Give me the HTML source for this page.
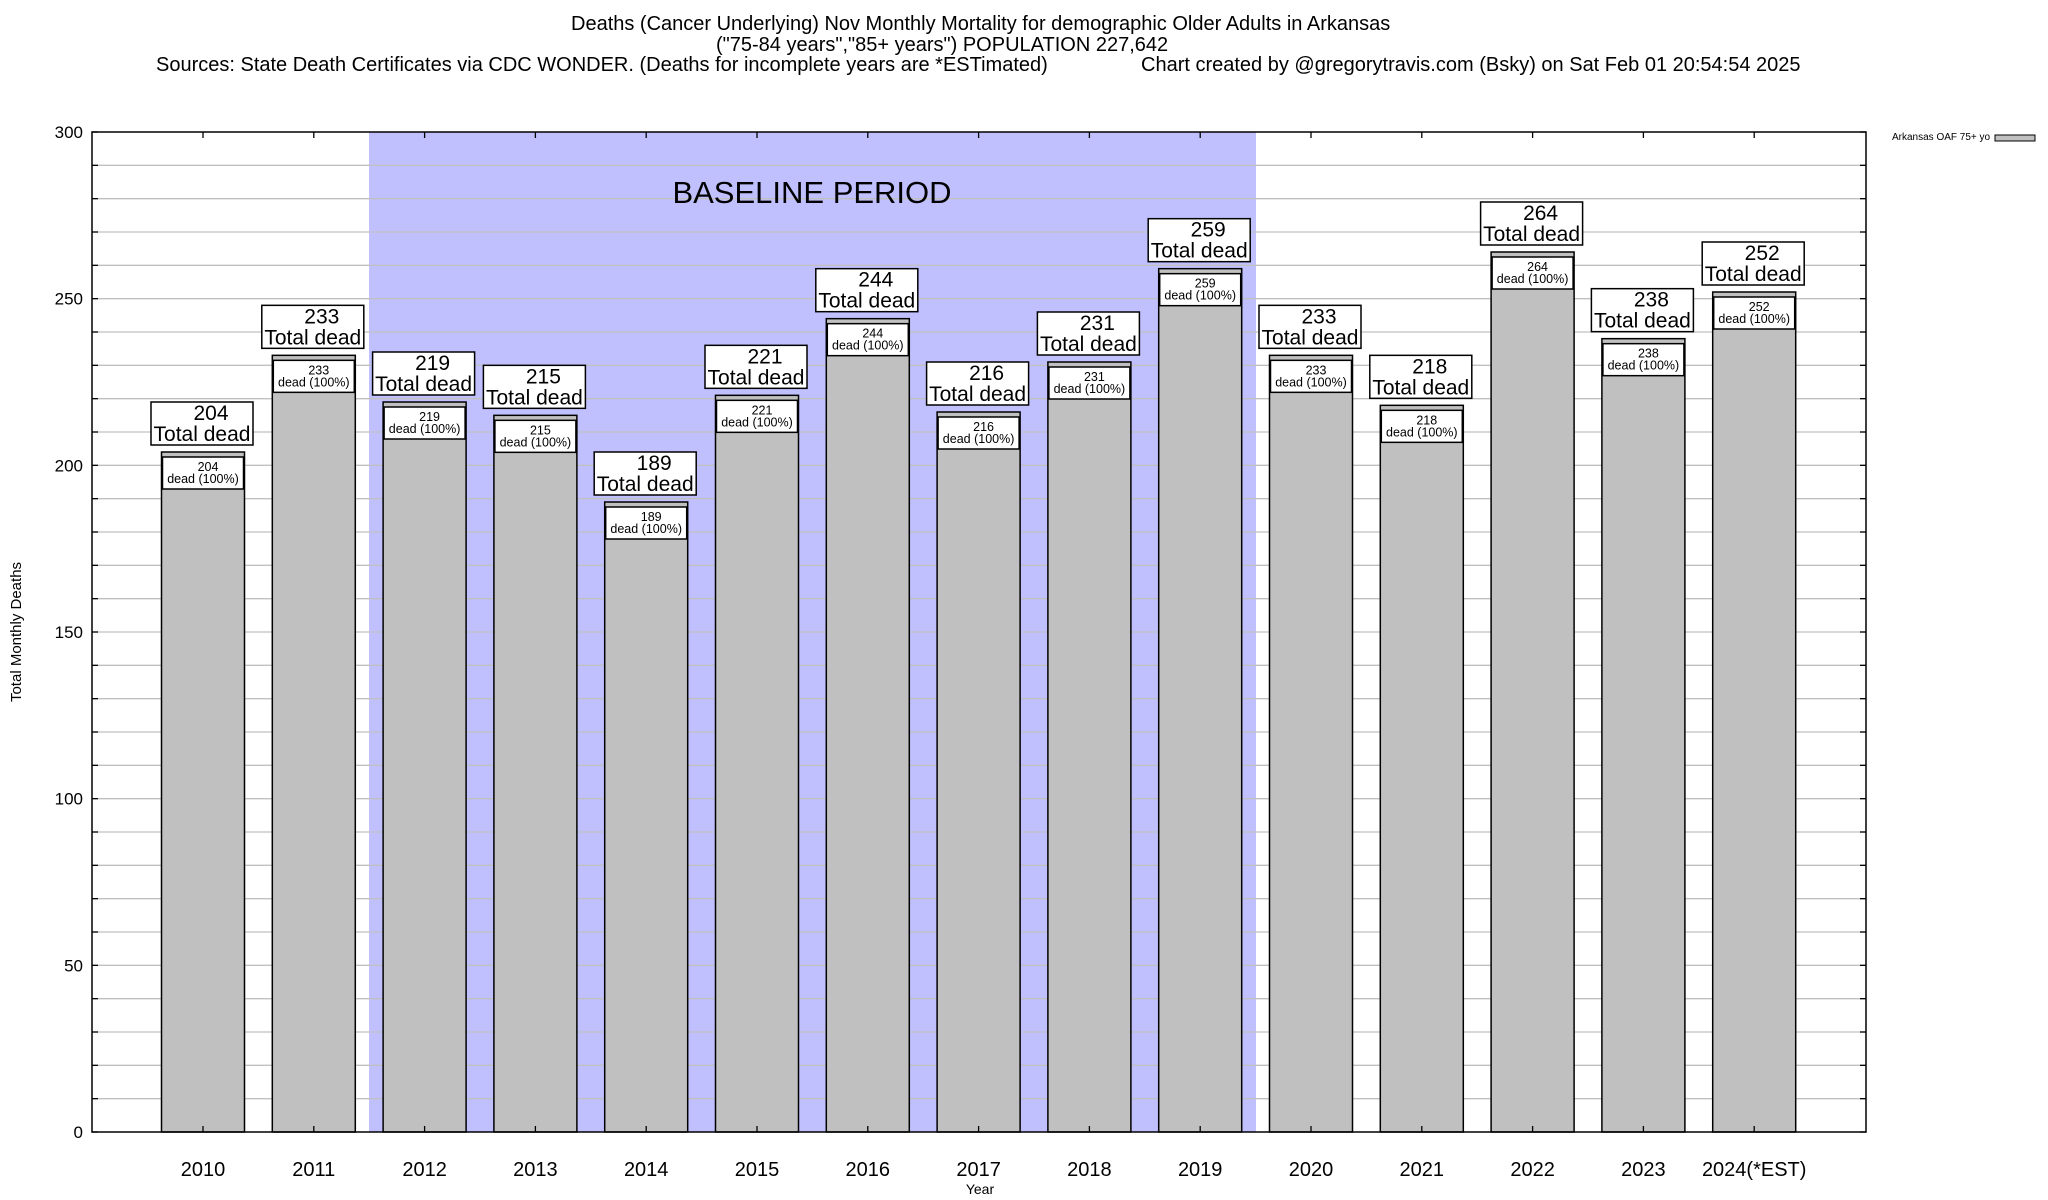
<!DOCTYPE html>
<html><head><meta charset="utf-8"><style>
html,body{margin:0;padding:0;background:#fff}
svg{display:block;font-family:"Liberation Sans",Arial,sans-serif}
</style></head><body>
<svg width="2048" height="1200" viewBox="0 0 2048 1200" xmlns="http://www.w3.org/2000/svg">
<rect width="2048" height="1200" fill="#fff"/>
<text x="571" y="30" font-size="20">Deaths (Cancer Underlying) Nov Monthly Mortality for demographic Older Adults in Arkansas</text>
<text x="716" y="51" font-size="20">("75-84 years","85+ years") POPULATION 227,642</text>
<text x="156" y="71" font-size="20">Sources: State Death Certificates via CDC WONDER. (Deaths for incomplete years are *ESTimated)</text>
<text x="1141" y="71" font-size="20">Chart created by @gregorytravis.com (Bsky) on Sat Feb 01 20:54:54 2025</text>
<rect x="369" y="132" width="887" height="1000" fill="#c0c0ff"/>
<g id="grid" stroke="#c0c0c0" stroke-width="1.3"></g>
<text x="812" y="203" font-size="31" text-anchor="middle">BASELINE PERIOD</text>
<g id="bars"></g>
<rect x="92" y="132" width="1774" height="1000" fill="none" stroke="#000" stroke-width="1.5"/>
<g id="ticks" stroke="#000" stroke-width="1.3"></g>
<g id="lbl" font-size="17" text-anchor="end"></g>
<text transform="translate(21,632) rotate(-90)" font-size="15" text-anchor="middle">Total Monthly Deaths</text>
<text x="980" y="1194" font-size="14" text-anchor="middle">Year</text>
<text x="1892" y="140" font-size="10">Arkansas OAF 75+ yo</text>
<rect x="1995" y="135" width="40" height="6" fill="#c0c0c0" stroke="#000" stroke-width="1"/>
</svg>
<script>
const NS="http://www.w3.org/2000/svg";
function el(p,t,a,txt){const e=document.createElementNS(NS,t);for(const k in a)e.setAttribute(k,a[k]);if(txt!=null)e.textContent=txt;p.appendChild(e);return e;}
const Y=v=>1132-v*1000/300;
const grid=document.getElementById('grid'),ticks=document.getElementById('ticks'),lbl=document.getElementById('lbl');
for(let v=10;v<300;v+=10){el(grid,'line',{x1:92,x2:1866,y1:Y(v),y2:Y(v)});}
for(let v=0;v<=300;v+=10){el(ticks,'line',{x1:92,x2:98,y1:Y(v),y2:Y(v)});el(ticks,'line',{x1:1860,x2:1866,y1:Y(v),y2:Y(v)});}
for(let v=0;v<=300;v+=50){el(lbl,'text',{x:83,y:Y(v)+6},v);}
const data=[204,233,219,215,189,221,244,216,231,259,233,218,264,238,252];
const bars=document.getElementById('bars');
data.forEach((d,i)=>{
 const cx=203+i*110.8, t=Y(d);
 el(ticks,'line',{x1:cx,x2:cx,y1:132,y2:138});
 el(ticks,'line',{x1:cx,x2:cx,y1:1126,y2:1132});
 el(bars,'rect',{x:cx-41.5,y:t,width:83,height:1132-t,fill:'#c0c0c0',stroke:'#000','stroke-width':1.5});
 el(bars,'rect',{x:cx-40.5,y:t+5,width:81,height:32,fill:'#fff',stroke:'#000','stroke-width':1.5});
 el(bars,'text',{x:cx+5,y:t+19,'font-size':12.5,'text-anchor':'middle'},d);
 el(bars,'text',{x:cx,y:t+31,'font-size':12.5,'text-anchor':'middle'},'dead (100%)');
 el(bars,'rect',{x:cx-52,y:t-50,width:102,height:43,fill:'#fff',stroke:'#000','stroke-width':1.5});
 el(bars,'text',{x:cx+8,y:t-32,'font-size':21,'text-anchor':'middle'},d);
 el(bars,'text',{x:cx-1,y:t-11,'font-size':21,'text-anchor':'middle'},'Total dead');
 el(lbl,'text',{x:cx,y:1176,'font-size':20,'text-anchor':'middle'},i==14?'2024(*EST)':2010+i);
});
</script>
</body></html>
